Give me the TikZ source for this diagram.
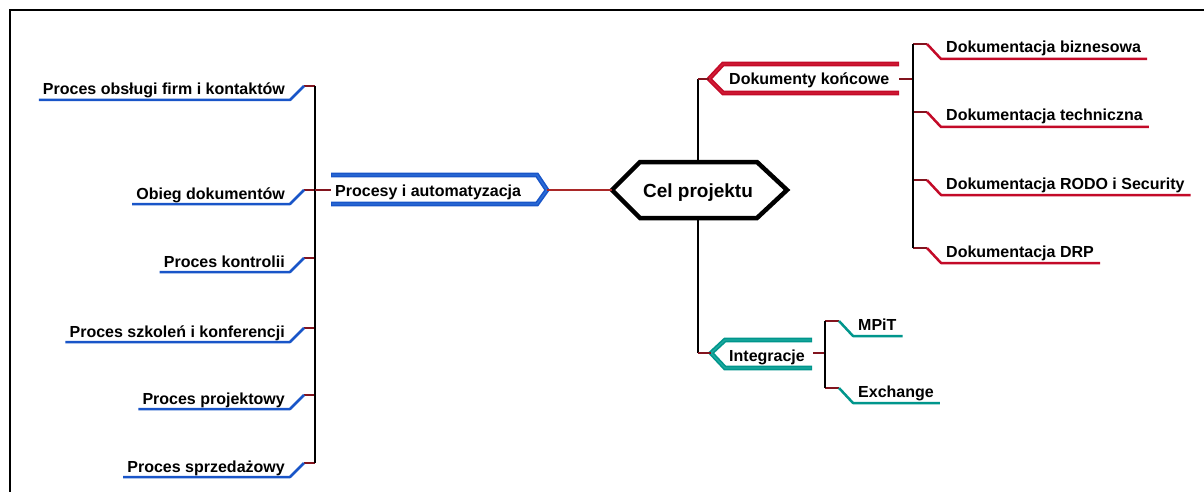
\documentclass[tikz,border=0pt]{standalone}
\usepackage{fontspec}
\setmainfont{Liberation Sans}
\definecolor{bl}{RGB}{25,85,200}
\definecolor{bllt}{RGB}{45,110,215}
\definecolor{rd}{RGB}{195,10,40}
\definecolor{rdlt}{RGB}{210,30,55}
\definecolor{tl}{RGB}{0,150,140}
\definecolor{tllt}{RGB}{30,170,160}
\definecolor{hc}{RGB}{130,20,30}
\definecolor{rc}{RGB}{170,40,40}
\begin{document}
\begin{tikzpicture}[x=1pt,y=-1pt,
  txt/.style={font=\fontsize{16}{19}\selectfont\bfseries, inner sep=0pt},
  bigtxt/.style={font=\fontsize{19}{22}\selectfont\bfseries, inner sep=0pt},
  conn/.style={line width=1.3pt, draw=black},
  hconn/.style={line width=1.3pt, draw=hc},
  leafline/.style={line width=2.5pt, draw=#1, line join=round},
  band/.style={draw=#1, line width=4.6pt, line join=miter},
  bandin/.style={draw=#1, line width=1.4pt, line join=miter},
  frame/.style={line width=1.5pt, draw=black}
]
\useasboundingbox (0,0) rectangle (1204,492);
\fill[white] (0,0) rectangle (1204,492);
% frame
\draw[frame] (10,492) -- (10,10) -- (1204,10);

\newcommand\LLeaf[3]{%
  \node[txt, anchor=base east] (#1) at (285,#2+9) {#3};
  \coordinate (#1j) at (315,#2);
  \draw[hconn] (#1j) -- ++(-11,0) coordinate (#1k);
  \draw[leafline=bl] (#1k) -- ++(-14,14) -- ([xshift=-4pt,yshift=-5pt]#1.base west);
}
\newcommand\RLeaf[5]{% name, x of trunk, y, text, color
  \node[txt, anchor=base west] (#1) at (#2+33,#3+9) {#4};
  \coordinate (#1j) at (#2,#3);
  \draw[hconn] (#1j) -- ++(14,0) coordinate (#1k);
  \draw[leafline=#5] (#1k) -- ++(14,15) -- ([xshift=6pt,yshift=-6pt]#1.base east);
}

% central hexagon
\node[bigtxt, anchor=base] (cel) at (698,197) {Cel projektu};
\coordinate (celL) at (612,190);
\coordinate (celT) at (698,162);
\coordinate (celB) at (698,218);
\draw[line width=4.5pt, line join=miter] (612,190) -- (640,162) -- (757,162) -- (787,190) -- (757,218) -- (640,218) -- cycle;

% Procesy i automatyzacja
\node[txt, anchor=base west] (proc) at (335,196) {Procesy i automatyzacja};
\coordinate (procL) at (331,190);
\coordinate (procR) at (547,190);
\draw[band=bl] (331,175) -- (537,175) -- (547,190) -- (537,204) -- (331,204);
\draw[bandin=bllt] (332,175) -- (537,175) -- (547,190) -- (537,204) -- (332,204);
\draw[line width=1.3pt, draw=rc] (procR) -- (celL);

% Dokumenty koncowe
\node[txt, anchor=base west] (dok) at (729,85) {Dokumenty końcowe};
\coordinate (dokL) at (709,79);
\coordinate (dokR) at (899,79);
\draw[band=rd] (899,64) -- (723,64) -- (709,79) -- (723,93) -- (899,93);
\draw[bandin=rdlt] (898,64) -- (723,64) -- (709,79) -- (723,93) -- (898,93);
\coordinate (dokC) at (698,79);
\draw[conn] (celT) -- (dokC);
\draw[hconn] (dokC) -- (dokL);

% Integracje
\node[txt, anchor=base west] (integ) at (729,361) {Integracje};
\coordinate (integL) at (711,353);
\coordinate (integR) at (813,353);
\draw[band=tl] (812,340) -- (725,340) -- (711,353) -- (725,368) -- (812,368);
\draw[bandin=tllt] (811,340) -- (725,340) -- (711,353) -- (725,368) -- (811,368);
\coordinate (integC) at (698,353);
\draw[conn] (celB) -- (integC);
\draw[hconn] (integC) -- (integL);

% left leaves
\LLeaf{l1}{86}{Proces obsługi firm i kontaktów}
\LLeaf{l2}{190}{Obieg dokumentów}
\LLeaf{l3}{258}{Proces kontrolii}
\LLeaf{l4}{328}{Proces szkoleń i konferencji}
\LLeaf{l5}{395}{Proces projektowy}
\LLeaf{l6}{463}{Proces sprzedażowy}
\draw[conn] (l1j) -- (l6j);
\draw[hconn] (l2j) -- (procL);

% right leaves
\RLeaf{r1}{913}{44}{Dokumentacja biznesowa}{rd}
\RLeaf{r2}{913}{112}{Dokumentacja techniczna}{rd}
\RLeaf{r3}{913}{180}{Dokumentacja RODO i Security}{rd}
\RLeaf{r4}{913}{248}{Dokumentacja DRP}{rd}
\coordinate (dokT) at (913,79);
\draw[hconn] (dokR) -- (dokT);
\draw[conn] (r1j) -- (r4j);

% integration leaves
\RLeaf{i1}{825}{321}{MPiT}{tl}
\RLeaf{i2}{825}{388}{Exchange}{tl}
\coordinate (integT) at (825,353);
\draw[hconn] (integR) -- (integT);
\draw[conn] (i1j) -- (i2j);
\end{tikzpicture}
\end{document}
